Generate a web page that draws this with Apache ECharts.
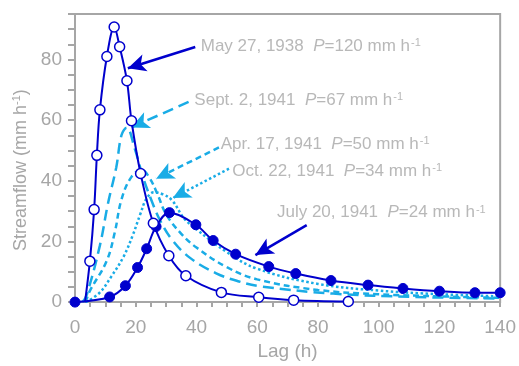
<!DOCTYPE html>
<html><head><meta charset="utf-8">
<script src="https://cdn.jsdelivr.net/npm/echarts@6/dist/echarts.min.js"></script>
<style>html,body{margin:0;padding:0;background:#fff}#c{width:519px;height:366px}</style>
</head><body><div id="c"></div>
<script>
// May 27, 1938 (open circles)
const lagMay = [3.3, 4.9, 6.3, 7.2, 8.2, 10.5, 12.9, 14.7, 17.1, 18.6, 21.6, 25.8, 30.9, 36.5, 48.2, 60.5, 72, 90];
const valMay = [0, 13.5, 30.5, 48.4, 63.4, 81, 90.7, 84.2, 73, 59.8, 42.4, 26, 15.3, 8.7, 3.2, 1.6, 0.65, 0.2];
// July 20, 1941 (filled circles)
const lagJul = [0, 11.4, 16.6, 20.6, 23.6, 26.7, 31.1, 39.8, 45.5, 52.9, 63.8, 72.7, 84.3, 96.5, 108, 120, 131.7, 140];
const valJul = [0, 1.7, 5.4, 11.4, 17.6, 24.9, 29.5, 25.5, 20.3, 15.8, 11.7, 9.4, 7.1, 5.6, 4.5, 3.6, 3.1, 3.1];
// Sept. 2, 1941 (long dash)
const lagSep = [2.5, 3.9, 8.2, 10.9, 13.6, 15.3, 17, 19.7, 22.3, 25, 28, 32, 38, 46.5, 54, 61, 85, 112, 140];
const valSep = [0, 2.5, 18.7, 32.7, 44.5, 55, 57.5, 50.5, 41.5, 34, 27, 20.5, 14.5, 9.5, 6.8, 5.2, 2.8, 1.7, 1.2];
// Apr. 17, 1941 (short dash)
const lagApr = [3.5, 4.9, 10.4, 13.1, 15.3, 18.6, 22, 24.5, 27, 30, 35, 40, 50, 60, 80, 100, 120, 140];
const valApr = [0, 3.7, 13.5, 23, 33.8, 41.3, 43.5, 41, 36, 29, 22.5, 18, 11.5, 7.5, 4, 2.6, 1.9, 1.4];
// Oct. 22, 1941 (dotted)
const lagOct = [3.5, 8, 12, 16, 19, 21.5, 23.5, 26, 29, 32, 36, 40, 50, 60, 80, 100, 120, 140];
const valOct = [0, 3, 8.5, 15, 22, 29, 34, 36.2, 35.5, 33.5, 27.5, 24, 16.5, 11, 6, 3.8, 2.6, 1.9];

// annotation texts and arrows (data coordinates)
const labelDates = ['May 27, 1938', 'Sept. 2, 1941', 'Apr. 17, 1941', 'Oct. 22, 1941', 'July 20, 1941'];
const labelP = ['120', '67', '50', '34', '24'];
const labelLag = [41.4, 39.3, 48, 51.8, 66.5];
const labelVal = [84.3, 66.5, 52, 43.2, 29.5];
const arrowFrom = [[39.6, 84.1], [37.4, 66], [47.4, 51], [50.7, 44], [76.3, 25.4]];
const arrowTo = [[17.4, 77.1], [18.5, 57.6], [26.7, 40.7], [32.2, 34.3], [59.4, 15.5]];

const DARK = '#0000cd', LIGHT = '#19ace6', GRAY = '#a6a6a6';
const FONT = 'Liberation Sans, Arial, sans-serif';
const pairs = (a, b) => a.map((v, i) => [v, b[i]]);

const dashSep = [11, 6], dashApr = [6, 4], dashOct = [2.5, 2.5];
const arrowStyles = [
  {color: DARK, type: 'solid', width: 2.5},
  {color: LIGHT, type: dashSep, width: 2.5},
  {color: LIGHT, type: dashApr, width: 2.5},
  {color: LIGHT, type: dashOct, width: 2.5},
  {color: DARK, type: 'solid', width: 2.5}
];

function arrowSeries(i) {
  return {
    type: 'line', data: [], silent: true, z: 6,
    markLine: {
      silent: true, animation: false,
      symbol: ['none', 'arrow'], symbolSize: [13, 18],
      label: {show: false},
      lineStyle: arrowStyles[i],
      emphasis: {disabled: true},
      data: [[{coord: arrowFrom[i]}, {coord: arrowTo[i]}]]
    }
  };
}

const richText = {
  n: {fontSize: 17, color: GRAY, fontFamily: FONT},
  i: {fontSize: 17, color: GRAY, fontFamily: FONT, fontStyle: 'italic'},
  s: {fontSize: 11, color: GRAY, fontFamily: FONT, verticalAlign: 'top', padding: [0, 0, 0, 1]}
};

const chart = echarts.init(document.getElementById('c'), null, {renderer: 'canvas'});
chart.setOption({
  animation: false,
  grid: {left: 75, right: 16, top: 14, bottom: 58, show: true, borderColor: GRAY, borderWidth: 2, backgroundColor: 'transparent'},
  xAxis: {
    type: 'value', min: 0, max: 140, interval: 5,
    name: 'Lag (h)', nameLocation: 'middle', nameGap: 38,
    nameTextStyle: {color: GRAY, fontSize: 19, fontFamily: FONT},
    axisLine: {lineStyle: {color: GRAY, width: 2}},
    axisTick: {show: true, length: 5, lineStyle: {color: GRAY, width: 2}},
    axisLabel: {color: GRAY, fontSize: 19, fontFamily: FONT, margin: 16,
      formatter: v => (v % 20 === 0 ? String(v) : '')},
    splitLine: {show: false}
  },
  yAxis: {
    type: 'value', min: 0, max: 95, interval: 5,
    name: '{n|Streamflow (mm h}{s|-1}{n|)}', nameLocation: 'middle', nameGap: 42,
    nameTextStyle: {color: GRAY, fontSize: 18, fontFamily: FONT, padding: [0, 24, 0, 0],
      rich: {n: {fontSize: 18, color: GRAY, fontFamily: FONT}, s: {fontSize: 11, color: GRAY, fontFamily: FONT, verticalAlign: 'top'}}},
    axisLine: {lineStyle: {color: GRAY, width: 2}},
    axisTick: {show: true, length: 7, lineStyle: {color: GRAY, width: 2}},
    axisLabel: {color: GRAY, fontSize: 19, fontFamily: FONT, margin: 13,
      formatter: v => (v % 20 === 0 ? String(v) : '')},
    splitLine: {show: false}
  },
  series: [
    {type: 'line', data: pairs(lagSep, valSep), smooth: 0.4, symbol: 'none', z: 2,
      lineStyle: {color: LIGHT, width: 2.5, type: dashSep}},
    {type: 'line', data: pairs(lagApr, valApr), smooth: 0.4, symbol: 'none', z: 2,
      lineStyle: {color: LIGHT, width: 2.5, type: dashApr}},
    {type: 'line', data: pairs(lagOct, valOct), smooth: 0.4, symbol: 'none', z: 2,
      lineStyle: {color: LIGHT, width: 2.5, type: dashOct}},
    {type: 'line', data: pairs(lagJul, valJul), smooth: 0.35, z: 4,
      symbol: 'circle', symbolSize: 10, showAllSymbol: true,
      itemStyle: {color: DARK, borderColor: DARK},
      lineStyle: {color: DARK, width: 2}},
    {type: 'line', smooth: 0.35, z: 5, symbol: 'circle', symbolSize: 10, showAllSymbol: true,
      data: pairs(lagMay, valMay).map((p, i) => i === 0 ? {value: p, symbol: 'none'} : p),
      itemStyle: {color: '#ffffff', borderColor: DARK, borderWidth: 1.5},
      lineStyle: {color: DARK, width: 2}},
    {type: 'scatter', symbolSize: 0, z: 7, silent: true,
      data: labelLag.map((x, i) => [x, labelVal[i], i]),
      label: {show: true, position: 'right', distance: 0,
        formatter: p => '{n|' + labelDates[p.data[2]] + '  }{i|P}{n|=' + labelP[p.data[2]] + ' mm h}{s|-1}',
        rich: richText}},
    arrowSeries(0), arrowSeries(1), arrowSeries(2), arrowSeries(3), arrowSeries(4)
  ]
});
</script></body></html>
